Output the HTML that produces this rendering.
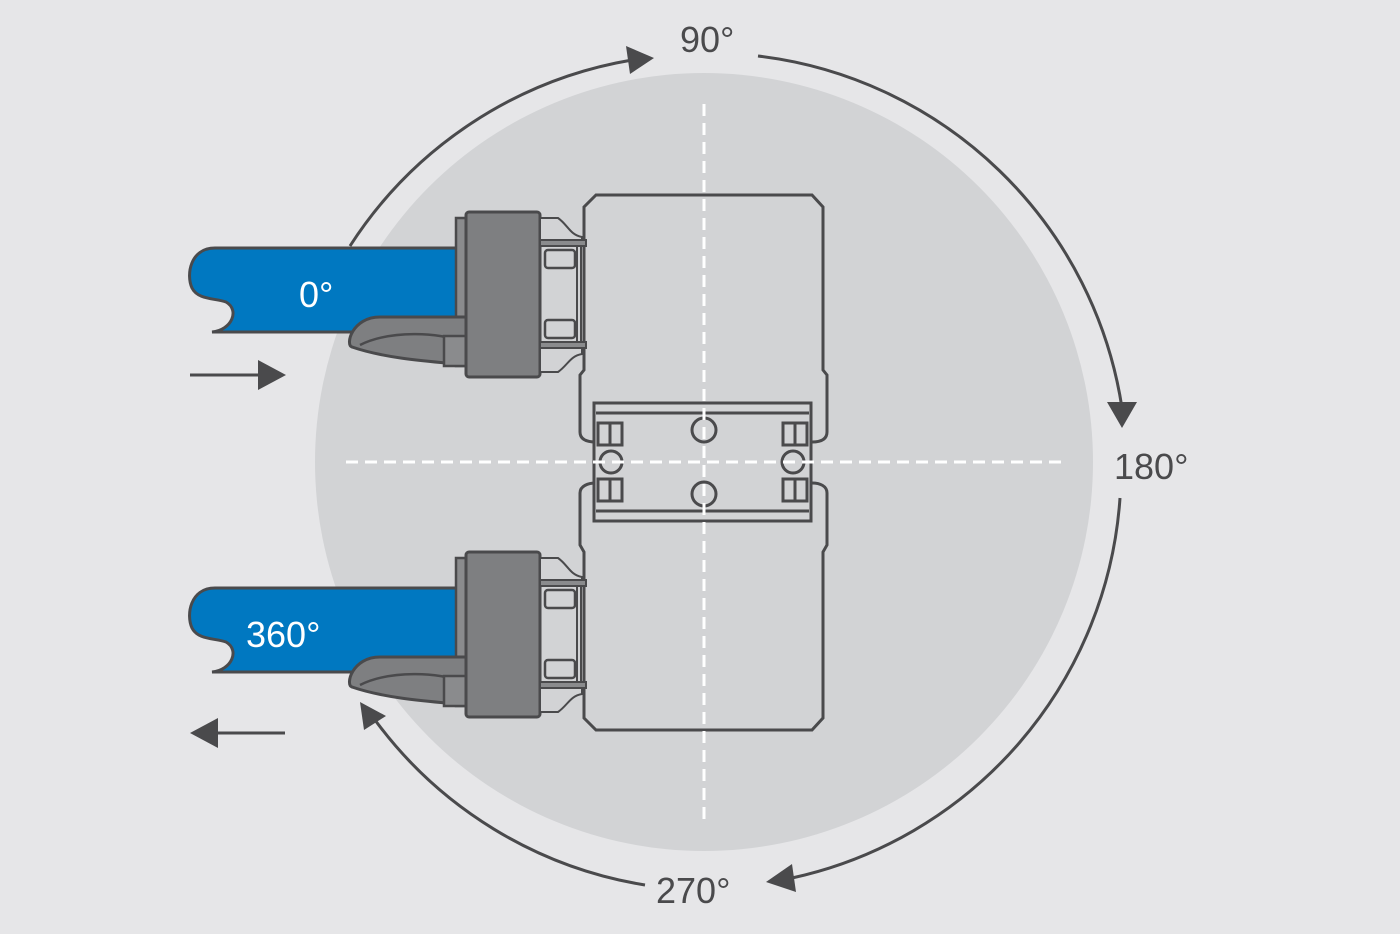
<!DOCTYPE html>
<html><head><style>html,body{margin:0;padding:0;background:#e6e6e8}svg{display:block}</style></head>
<body>
<svg width="1400" height="934" viewBox="0 0 1400 934" xmlns="http://www.w3.org/2000/svg" font-family="Liberation Sans, sans-serif">
<rect width="1400" height="934" fill="#e6e6e8"/>
<circle cx="704" cy="462" r="389" fill="#d2d3d5"/>
<g fill="none" stroke="#4a4a4c" stroke-width="3">
<path d="M350,246 A418 418 0 0 1 632,60"/>
<path d="M758,56 A418 418 0 0 1 1122,408"/>
<path d="M1120,498 A418 418 0 0 1 792,878"/>
<path d="M645,885 A418 418 0 0 1 375,720"/>
<path d="M190,375 H262"/>
<path d="M212,733 H285"/>
</g>
<g fill="#4a4a4c">
<polygon points="626,46 654,58 630,74"/>
<polygon points="1107,402 1137,402 1122,428"/>
<polygon points="792,864 796,892 766,882"/>
<polygon points="360,702 386,716 364,730"/>
<polygon points="258,360 286,375 258,390"/>
<polygon points="218,718 190,733 218,748"/>
</g>
<defs>
<g id="tool">
<path d="M468,248 H215 C190,248 186,275 192,288 C198,300 215,298 226,302 C240,310 232,330 212,332 H468 Z" fill="#0078c1" stroke="#4a4a4c" stroke-width="3"/>
<rect x="456" y="218" width="12" height="148" fill="#8a8b8d" stroke="#4a4a4c" stroke-width="2.5"/>
<path d="M468,317 H380 C352,317 345,345 352,347 C390,360 440,362 468,365 Z" fill="#7e7f81" stroke="#4a4a4c" stroke-width="3"/>
<path d="M360,345 C390,330 440,332 462,342" fill="none" stroke="#4a4a4c" stroke-width="2.5"/>
<rect x="444" y="336" width="24" height="30" fill="#8a8b8d" stroke="#4a4a4c" stroke-width="2.5"/>
<rect x="466" y="212" width="74" height="165" rx="3" fill="#7e7f81" stroke="#4a4a4c" stroke-width="3"/>
<path d="M540,218 H558 C568,225 570,235 582,237 V246 H540 Z" fill="#d2d3d5" stroke="#4a4a4c" stroke-width="2"/>
<path d="M540,372 H558 C568,365 570,356 582,354 V345 H540 Z" fill="#d2d3d5" stroke="#4a4a4c" stroke-width="2"/>
<rect x="540" y="240" width="46" height="6" fill="#8a8b8d" stroke="#4a4a4c" stroke-width="2"/>
<rect x="540" y="342" width="46" height="6" fill="#8a8b8d" stroke="#4a4a4c" stroke-width="2"/>
<rect x="545" y="250" width="30" height="18" rx="3" fill="#d2d3d5" stroke="#4a4a4c" stroke-width="2.5"/>
<rect x="545" y="320" width="30" height="18" rx="3" fill="#d2d3d5" stroke="#4a4a4c" stroke-width="2.5"/>
<rect x="577" y="246" width="4" height="96" fill="#d2d3d5" stroke="#4a4a4c" stroke-width="2"/>
</g>
</defs>
<!-- plates -->
<g fill="#d2d3d5" stroke="#4a4a4c" stroke-width="3">
<path d="M596,442 C588,442 580,440 580,432 V375 L584,370 V207 L596,195 H812 L823,207 V370 L827,375 V432 C827,440 820,442 812,442"/>
<path d="M596,483 C588,483 580,486 580,493 V545 L584,552 V718 L596,730 H812 L823,718 V552 L827,545 V493 C827,486 820,483 812,483"/>
</g>
<use href="#tool"/>
<use href="#tool" transform="translate(0,340)"/>
<!-- middle bracket -->
<g fill="none" stroke="#4a4a4c" stroke-width="3">
<rect x="594" y="403" width="217" height="118" fill="#d2d3d5"/>
<line x1="596" y1="413" x2="809" y2="413"/>
<line x1="596" y1="511" x2="809" y2="511"/>
<rect x="598" y="423" width="24" height="22"/><line x1="610" y1="423" x2="610" y2="445"/>
<rect x="598" y="479" width="24" height="22"/><line x1="610" y1="479" x2="610" y2="501"/>
<rect x="783" y="423" width="24" height="22"/><line x1="795" y1="423" x2="795" y2="445"/>
<rect x="783" y="479" width="24" height="22"/><line x1="795" y1="479" x2="795" y2="501"/>
<circle cx="611" cy="462" r="11"/>
<circle cx="793" cy="462" r="11"/>
<circle cx="704" cy="430" r="12"/>
<circle cx="704" cy="494" r="12"/>
</g>
<g stroke="#ffffff" stroke-width="3" stroke-dasharray="12,7">
<line x1="704" y1="104" x2="704" y2="822"/>
<line x1="346" y1="462" x2="1062" y2="462"/>
</g>
<g font-size="36" fill="#ffffff">
<text x="299" y="307">0°</text>
<text x="246" y="647">360°</text>
</g>
<g font-size="36" fill="#4a4a4c">
<text x="680" y="52">90°</text>
<text x="1114" y="479">180°</text>
<text x="656" y="903">270°</text>
</g>
</svg>
</body></html>
